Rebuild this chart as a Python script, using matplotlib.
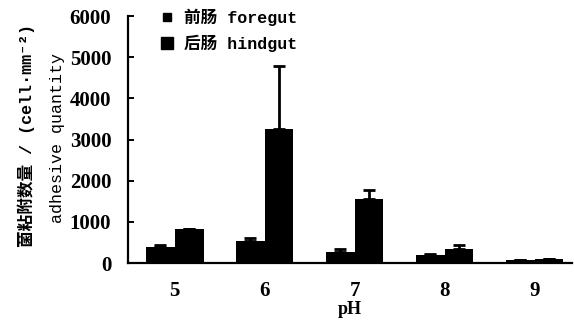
import numpy as np
import matplotlib.pyplot as plt

# --- Datos ---
ph = [5, 6, 7, 8, 9]
foregut = [380, 540, 280, 190, 70]
foregut_err = [60, 70, 60, 40, 15]
hindgut = [820, 3260, 1560, 330, 90]
hindgut_err = [0, 1520, 220, 120, 15]

x = np.array(ph, dtype=float)
w = 0.32

fig = plt.figure(figsize=(5.74, 3.22), dpi=100)
ax = fig.add_axes([0.223, 0.183, 0.774, 0.767])

err_kw = dict(ecolor='black', elinewidth=2, capsize=4, capthick=2)
b1 = ax.bar(x - w / 2, foregut, w, color='black',
            yerr=[np.zeros(len(foregut_err)), foregut_err], error_kw=err_kw)
b2 = ax.bar(x + w / 2, hindgut, w, color='black',
            yerr=[np.zeros(len(hindgut_err)), hindgut_err], error_kw=err_kw)

ax.set_xlim(4.48, 9.42)
ax.set_ylim(0, 6000)
ax.set_yticks(range(0, 6001, 1000))
ax.set_xticks(ph)
ax.set_xticklabels([str(p) for p in ph])

for s in ['top', 'right']:
    ax.spines[s].set_visible(False)
for s in ['left', 'bottom']:
    ax.spines[s].set_linewidth(1.6)

ax.tick_params(axis='y', direction='in', length=4, width=1.4, pad=12)
ax.tick_params(axis='x', length=0, pad=13)
for lab in ax.get_xticklabels() + ax.get_yticklabels():
    lab.set_fontfamily('Liberation Serif')
    lab.set_fontweight('bold')
    lab.set_fontsize(15)

ax.set_xlabel('pH', family='Liberation Serif', fontweight='bold', fontsize=13, labelpad=0)

# etiqueta del eje y en dos líneas
fig.text(0.045, 0.58, '菌粘附数量 / (cell·mm⁻²)', rotation=90,
         ha='center', va='center', fontsize=12, fontweight='bold',
         family=['Liberation Mono', 'Noto Sans CJK SC', 'DejaVu Sans Mono'])
fig.text(0.1, 0.57, 'adhesive quantity', rotation=90,
         ha='center', va='center', fontsize=12,
         family=['Liberation Mono'])

h1 = plt.Line2D([], [], marker='s', color='black', linestyle='none', markersize=6)
h2 = plt.Line2D([], [], marker='s', color='black', linestyle='none', markersize=8)
leg = ax.legend([h1, h2], ['前肠 foregut', '后肠 hindgut'], loc='upper left',
                bbox_to_anchor=(0.035, 1.09), frameon=False, handlelength=1,
                handletextpad=0.5, labelspacing=0.5,
                prop={'family': ['Liberation Mono', 'Noto Sans CJK SC'],
                      'weight': 'bold', 'size': 12})

plt.savefig('out.png', dpi=100)
